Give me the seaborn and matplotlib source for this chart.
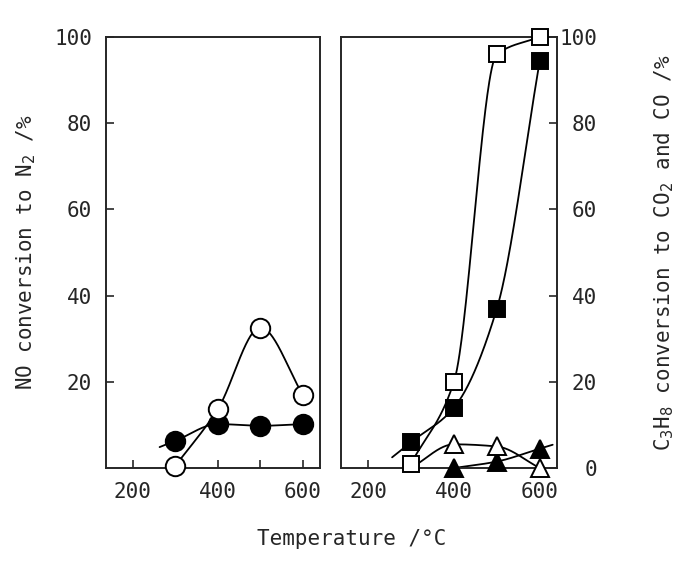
import numpy as np
import matplotlib
matplotlib.use("Agg")
import matplotlib.pyplot as plt
import seaborn as sns

# data (temperature in degC, conversion in %)
temp = [300, 400, 500, 600]

# left panel: NO conversion to N2
no_open = [0.5, 13.7, 32.6, 17.0]
no_filled = [6.3, 10.2, 9.8, 10.2]

# right panel: C3H8 conversion to CO2 and CO
c3_open_sq = [1.0, 20.0, 96.0, 100.0]
c3_filled_sq = [6.0, 14.0, 37.0, 94.5]
c3_open_tri = [0.0, 5.5, 5.0, 0.0]
tri_filled_temp = [400, 500, 600]
c3_filled_tri = [0.0, 1.5, 4.5]

xticks = [200, 300, 400, 500, 600]
xticklabels = ["200", "", "400", "", "600"]


def pchip_slopes(x, y):
    x = np.asarray(x, float)
    y = np.asarray(y, float)
    h = np.diff(x)
    d = np.diff(y) / h
    m = np.zeros_like(y)
    m[0], m[-1] = d[0], d[-1]
    for i in range(1, len(y) - 1):
        if d[i - 1] * d[i] > 0:
            w1 = 2 * h[i] + h[i - 1]
            w2 = h[i] + 2 * h[i - 1]
            m[i] = (w1 + w2) / (w1 / d[i - 1] + w2 / d[i])
    return m


def smooth(x, y, pre=0, post=0, n=200):
    # monotone cubic through the points, straight ends for the little overshoot
    x = np.asarray(x, float)
    y = np.asarray(y, float)
    m = pchip_slopes(x, y)
    xs = np.linspace(x[0], x[-1], n)
    i = np.clip(np.searchsorted(x, xs) - 1, 0, len(x) - 2)
    h = x[i + 1] - x[i]
    t = (xs - x[i]) / h
    h00 = 2 * t**3 - 3 * t**2 + 1
    h10 = t**3 - 2 * t**2 + t
    h01 = -2 * t**3 + 3 * t**2
    h11 = t**3 - t**2
    ys = h00 * y[i] + h10 * h * m[i] + h01 * y[i + 1] + h11 * h * m[i + 1]
    if pre:
        xs = np.r_[x[0] - pre, xs]
        ys = np.r_[y[0] - pre * m[0], ys]
    if post:
        xs = np.r_[xs, x[-1] + post]
        ys = np.r_[ys, y[-1] + post * m[-1]]
    return xs, ys


sns.set_style("ticks")
plt.rcParams["font.family"] = ["DejaVu Sans Mono"]
plt.rcParams["font.size"] = 15

fig = plt.figure(figsize=(6.77, 5.63), dpi=100)
ax1 = fig.add_axes([0.1566, 0.1687, 0.316, 0.7655])
ax2 = fig.add_axes([0.5037, 0.1687, 0.319, 0.7655])

lw = 1.3
mew = 1.4


def curve(ax, x, y, **kw):
    xs, ys = smooth(x, y, **kw)
    sns.lineplot(x=xs, y=ys, ax=ax, color="black", lw=lw, sort=False,
                 estimator=None, zorder=2)


def points(ax, x, y, marker, filled, size):
    ax.plot(x, y, ls="none", marker=marker, ms=size,
            mfc="black" if filled else "white", mec="black", mew=mew,
            clip_on=False, zorder=4 if not filled else 3)


# left panel
curve(ax1, temp, no_filled, pre=37, post=10)
curve(ax1, temp, no_open)
points(ax1, temp, no_filled, "o", True, 14)
points(ax1, temp, no_open, "o", False, 14)

# right panel
curve(ax2, temp, c3_filled_sq, pre=44)
curve(ax2, temp, c3_open_sq)
curve(ax2, temp, c3_open_tri)
curve(ax2, tri_filled_temp, c3_filled_tri, post=30)
points(ax2, temp[1:], c3_open_tri[1:], "^", False, 13)
points(ax2, tri_filled_temp, c3_filled_tri, "^", True, 13)
points(ax2, temp, c3_filled_sq, "s", True, 12)
points(ax2, temp, c3_open_sq, "s", False, 12)

for ax in (ax1, ax2):
    ax.set_xlim(137, 640)
    ax.set_ylim(0, 100)
    ax.set_xticks(xticks)
    ax.set_xticklabels(xticklabels)
    ax.tick_params(axis="both", direction="in", length=6, width=1.2,
                   labelsize=15, pad=10)
    for s in ax.spines.values():
        s.set_linewidth(1.4)
        s.set_visible(True)
    ax.set_xlabel("")
    ax.set_ylabel("")

ax1.set_yticks([20, 40, 60, 80, 100])
ax1.set_yticklabels(["20", "40", "60", "80", "100"])
ax1.set_ylabel("NO conversion to N$_2$ /%", fontsize=15, labelpad=12)

ax2.yaxis.tick_right()
ax2.set_yticks([0, 20, 40, 60, 80, 100])
ax2.tick_params(axis="y", pad=29)
for lab in ax2.get_yticklabels():
    lab.set_horizontalalignment("right")
ax2.yaxis.set_label_position("right")
ax2.set_ylabel("C$_3$H$_8$ conversion to CO$_2$ and CO /%", fontsize=15,
               rotation=90, labelpad=40)

fig.text(0.52, 0.025, "Temperature /°C", ha="center", va="bottom", fontsize=15)

fig.savefig("out.png", dpi=100)
